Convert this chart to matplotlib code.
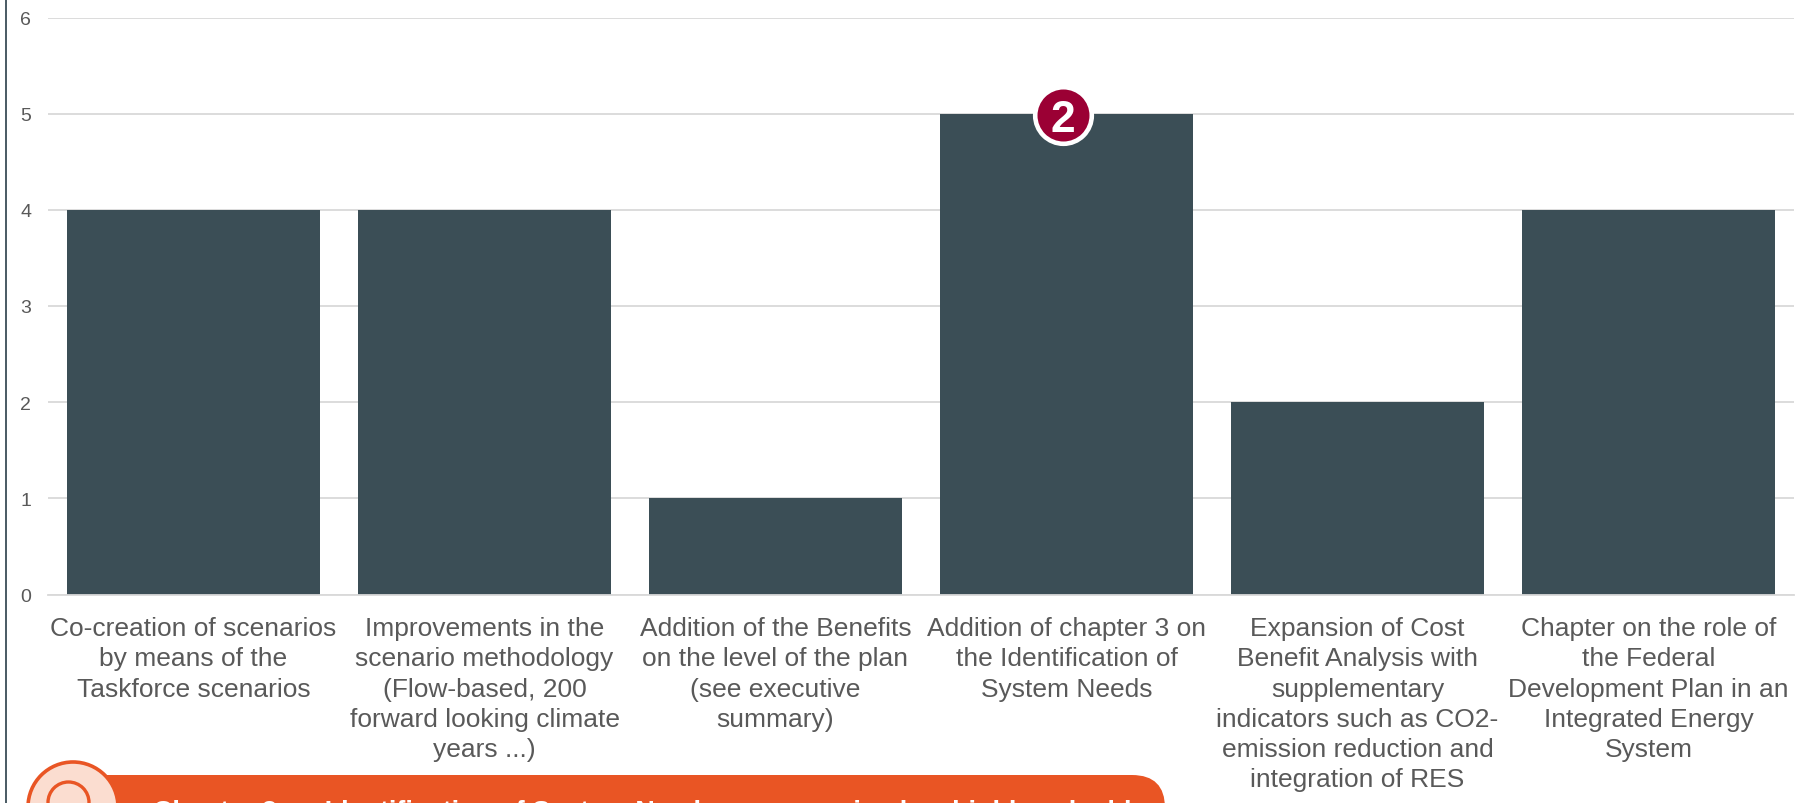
import matplotlib
matplotlib.use("Agg")
import matplotlib.pyplot as plt
from matplotlib.patches import Circle, FancyBboxPatch
from matplotlib.transforms import ScaledTranslation

plt.rcParams["font.family"] = ["Liberation Sans", "DejaVu Sans"]

W, H = 1816, 804

categories = [
    "Co-creation of scenarios\nby means of the\nTaskforce scenarios",
    "Improvements in the\nscenario methodology\n(Flow-based, 200\nforward looking climate\nyears ...)",
    "Addition of the Benefits\non the level of the plan\n(see executive\nsummary)",
    "Addition of chapter 3 on\nthe Identification of\nSystem Needs",
    "Expansion of Cost\nBenefit Analysis with\nsupplementary\nindicators such as CO2-\nemission reduction and\nintegration of RES",
    "Chapter on the role of\nthe Federal\nDevelopment Plan in an\nIntegrated Energy\nSystem",
]
votes = [4, 4, 1, 5, 2, 4]
y_ticks = [0, 1, 2, 3, 4, 5, 6]
highlight_index = 3
highlight_label = "2"
banner_text = "Chapter 3 on Identification of System Needs was perceived as highly valuable"

BAR = "#3B4E56"
GRID = "#D9D9D9"
TEXT = "#595959"
BADGE = "#9B0034"
ORANGE = "#E95524"
PEACH = "#FBDDD0"

fig = plt.figure(figsize=(W / 100, H / 100), dpi=100, facecolor="white")

# Main bar chart, placed by its pixel box
left, right, top, bottom = 48, 1794, 18.5, 595.5
ax = fig.add_axes([left / W, 1 - bottom / H, (right - left) / W, (bottom - top) / H])
ax.bar(range(len(votes)), votes, width=0.87, color=BAR, zorder=2)
ax.set_xlim(-0.5, len(votes) - 0.5)
ax.set_ylim(0, 6)
ax.set_yticks(y_ticks)
ax.set_xticks(range(len(categories)))
ax.set_xticklabels(categories, fontsize=19, color=TEXT, linespacing=1.33)
ax.tick_params(axis="x", length=0, pad=15.5)
ax.tick_params(axis="y", length=0, pad=12, labelsize=14, labelcolor=TEXT)
ax.grid(axis="y", color=GRID, lw=1.3, zorder=1)
ax.set_axisbelow(True)
for side in ("top", "right", "left"):
    ax.spines[side].set_visible(False)
ax.spines["bottom"].set_color(GRID)
ax.spines["bottom"].set_linewidth(1.3)

# Numbered badge on the highlighted bar, nudged slightly off the bar centre
badge_shift = ax.transData + ScaledTranslation(-3.5 / 100, -1 / 100, fig.dpi_scale_trans)
ax.scatter([highlight_index], [votes[highlight_index]], s=1660, color=BADGE,
           edgecolor="white", linewidth=3.3, zorder=5, clip_on=False, transform=badge_shift)
ax.text(highlight_index, votes[highlight_index], highlight_label, color="white",
        fontsize=32, fontweight="bold", ha="center", va="center_baseline", zorder=6,
        transform=badge_shift)

# Overlay in pixel coordinates for the page furniture
ov = fig.add_axes([0, 0, 1, 1], zorder=3)
ov.set_xlim(0, W)
ov.set_ylim(H, 0)
ov.axis("off")
ov.patch.set_alpha(0)

# Page frame line on the left edge
ov.plot([6, 6], [0, H], color="#4A5A63", lw=1.4, solid_capstyle="butt")

# Callout banner running off the bottom of the page
ov.add_patch(FancyBboxPatch((73 + 33, 776 + 33), 1165 - 73 - 66, 60,
                            boxstyle="round,pad=33,rounding_size=33",
                            facecolor=ORANGE, edgecolor="none"))
ov.add_patch(Circle((73, 808), 45, facecolor=PEACH, edgecolor=ORANGE, lw=2.6))
ov.add_patch(Circle((68.5, 803.5), 20.5, facecolor=PEACH, edgecolor=ORANGE, lw=2.4))
ov.text(153, 820, banner_text, color="white", fontsize=19.35, fontweight="bold",
        ha="left", va="baseline")

fig.savefig("out.png", dpi=100)
